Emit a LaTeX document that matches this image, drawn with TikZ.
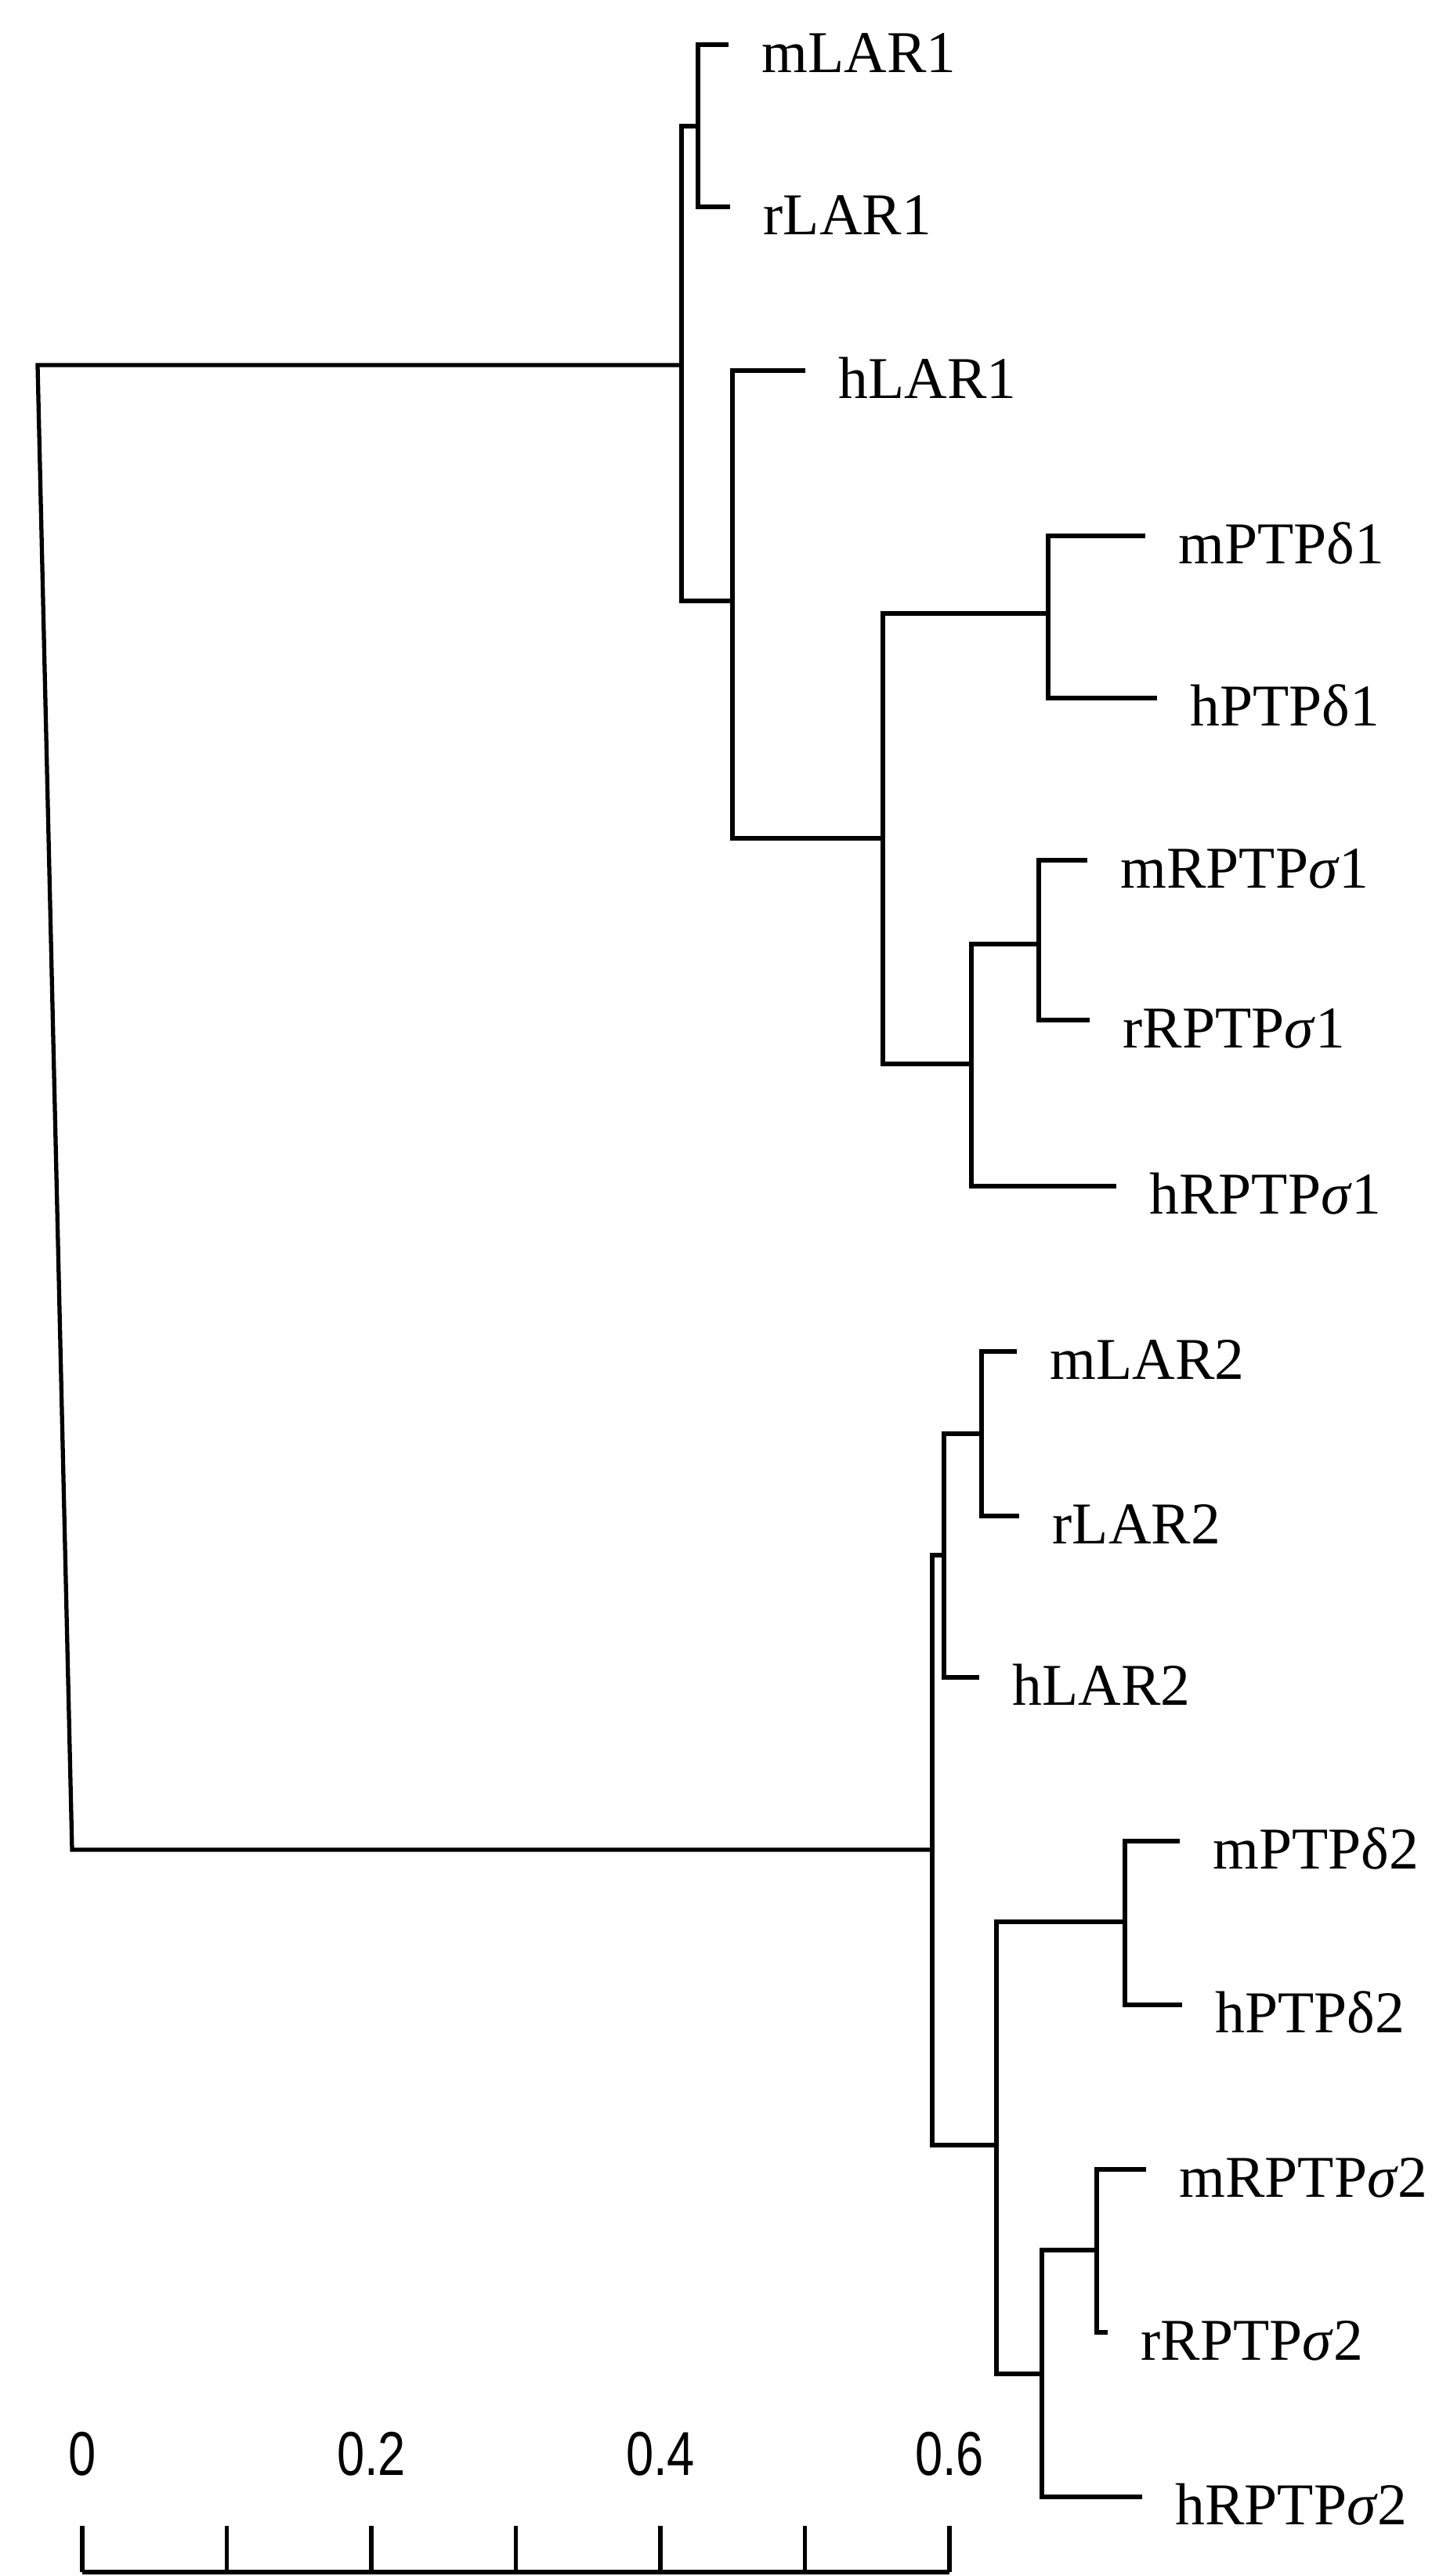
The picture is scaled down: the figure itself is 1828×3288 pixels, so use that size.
\documentclass[tikz,border=0pt]{standalone}
\usepackage{fontspec}
\setmainfont{Liberation Serif}
\newfontfamily\scalefont[FakeStretch=0.8]{Liberation Sans}
\usetikzlibrary{positioning}

\begin{document}
\begin{tikzpicture}[
			x=0.01cm, y=-0.01cm,
			line width=1.5pt,
			tip/.style={
					anchor=west,
					inner xsep=0.4cm,
					inner ysep=0pt,
					text height=0.7cm,
					text depth=0pt,
					font=\fontsize{21.5}{21.5}\selectfont
				},
			scalelbl/.style={
					anchor=south,
					inner sep=0pt,
					text depth=0pt,
					font=\scalefont\fontsize{22.5}{22.5}\selectfont
				}
		]
		\useasboundingbox (0,0) rectangle (1828,3288);

		\coordinate (rootA) at (48,466);
		\coordinate (rootB) at (92,2361);
		\coordinate (kA) at (870,466);
		\coordinate (kLAR1) at (891,161);
		\coordinate (kH1) at (935,767);
		\coordinate (kP1) at (1127,1070);
		\coordinate (kD1) at (1338,783);
		\coordinate (kS1) at (1240,1358);
		\coordinate (kSS1) at (1326,1205);
		\coordinate (kB) at (1190,2361);
		\coordinate (kL2) at (1205,1985);
		\coordinate (kLL2) at (1253,1830);
		\coordinate (kP2) at (1272,2738);
		\coordinate (kD2) at (1436,2453);
		\coordinate (kS2) at (1330,3030);
		\coordinate (kSS2) at (1400,2872);

		\node[tip] (mLAR1) at (930,57) {mLAR1};
		\node[tip] (rLAR1) at (932,264) {rLAR1};
		\node[tip] (hLAR1) at (1028,473) {hLAR1};
		\node[tip] (mPTPd1) at (1462,684) {mPTPδ1};
		\node[tip] (hPTPd1) at (1477,891) {hPTPδ1};
		\node[tip] (mRPTPs1) at (1388,1098) {mRPTP\textit{σ}1};
		\node[tip] (rRPTPs1) at (1391,1302) {rRPTP\textit{σ}1};
		\node[tip] (hRPTPs1) at (1425,1514) {hRPTP\textit{σ}1};
		\node[tip] (mLAR2) at (1298,1725) {mLAR2};
		\node[tip] (rLAR2) at (1301,1935) {rLAR2};
		\node[tip] (hLAR2) at (1250,2141) {hLAR2};
		\node[tip] (mPTPd2) at (1506,2350) {mPTPδ2};
		\node[tip] (hPTPd2) at (1509,2559) {hPTPδ2};
		\node[tip] (mRPTPs2) at (1463,2769) {mRPTP\textit{σ}2};
		\node[tip] (rRPTPs2) at (1414,2977) {rRPTP\textit{σ}2};
		\node[tip] (hRPTPs2) at (1458,3187) {hRPTP\textit{σ}2};

		\draw (kA) -- (rootA) -- (rootB) -- (kB);

		\draw (kLAR1) -| (kA);
		\draw (kH1) -| (kA);
		\draw (mLAR1.west) -| (kLAR1);
		\draw (rLAR1.west) -| (kLAR1);
		\draw (hLAR1.west) -| (kH1);
		\draw (kP1) -| (kH1);
		\draw (kD1) -| (kP1);
		\draw (kS1) -| (kP1);
		\draw (mPTPd1.west) -| (kD1);
		\draw (hPTPd1.west) -| (kD1);
		\draw (kSS1) -| (kS1);
		\draw (hRPTPs1.west) -| (kS1);
		\draw (mRPTPs1.west) -| (kSS1);
		\draw (rRPTPs1.west) -| (kSS1);

		\draw (kL2) -| (kB);
		\draw (kP2) -| (kB);
		\draw (kLL2) -| (kL2);
		\draw (hLAR2.west) -| (kL2);
		\draw (mLAR2.west) -| (kLL2);
		\draw (rLAR2.west) -| (kLL2);
		\draw (kD2) -| (kP2);
		\draw (kS2) -| (kP2);
		\draw (mPTPd2.west) -| (kD2);
		\draw (hPTPd2.west) -| (kD2);
		\draw (kSS2) -| (kS2);
		\draw (hRPTPs2.west) -| (kS2);
		\draw (mRPTPs2.west) -| (kSS2);
		\draw (rRPTPs2.west) -| (kSS2);

		\foreach \i in {0,...,6}
		\coordinate (t\i) at (105+184.5*\i,3283);
		\draw (t0) -- (t6);
		\foreach \i in {0,...,6}
		\draw (t\i) -- ++(0,-59);
		\foreach \i/\v in {0/0,2/0.2,4/0.4,6/0.6}
		\node[scalelbl, above=1.21cm of t\i] (s\i) {\v};
	\end{tikzpicture}
\end{document}
